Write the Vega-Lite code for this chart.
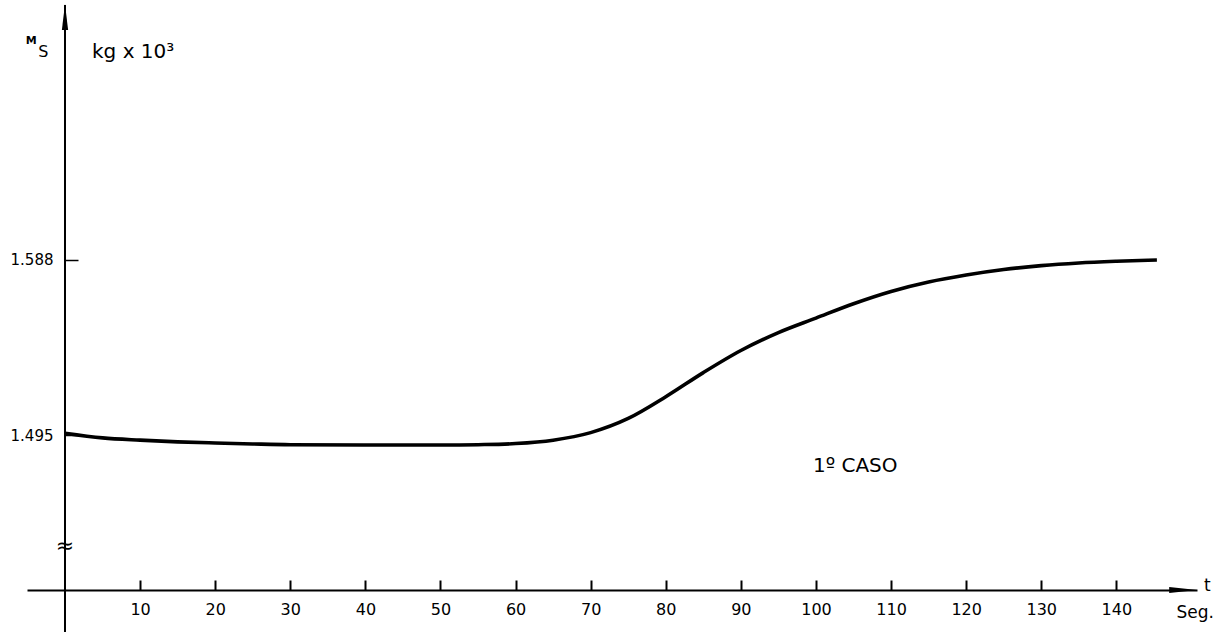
{
  "$schema": "https://vega.github.io/schema/vega-lite/v6.json",
  "width": 1170,
  "height": 585,
  "autosize": {"type": "none"},
  "padding": {"left": 27, "top": 5, "right": 28, "bottom": 42},
  "background": "white",
  "config": {"view": {"stroke": null}, "font": "DejaVu Sans"},
  "datasets": {
    "curve": [
      {"t": 0, "ms": 1.4962},
      {"t": 5, "ms": 1.4937},
      {"t": 10, "ms": 1.4925},
      {"t": 15, "ms": 1.4916},
      {"t": 20, "ms": 1.4910},
      {"t": 25, "ms": 1.4905},
      {"t": 30, "ms": 1.4901},
      {"t": 40, "ms": 1.4899},
      {"t": 50, "ms": 1.4899},
      {"t": 55, "ms": 1.4901},
      {"t": 60, "ms": 1.4907},
      {"t": 65, "ms": 1.4925},
      {"t": 70, "ms": 1.4965},
      {"t": 75, "ms": 1.5040},
      {"t": 80, "ms": 1.5155},
      {"t": 85, "ms": 1.5283},
      {"t": 90, "ms": 1.5400},
      {"t": 95, "ms": 1.5495},
      {"t": 100, "ms": 1.5572},
      {"t": 105, "ms": 1.5648},
      {"t": 110, "ms": 1.5713},
      {"t": 115, "ms": 1.5763},
      {"t": 120, "ms": 1.5800},
      {"t": 125, "ms": 1.5829},
      {"t": 130, "ms": 1.5850},
      {"t": 135, "ms": 1.5864},
      {"t": 140, "ms": 1.5873},
      {"t": 145.4, "ms": 1.5880}
    ],
    "one": [{}],
    "bigText": [
      {"t": 3.6, "ms": 1.6982, "label": "kg x 10³"},
      {"t": 99.6, "ms": 1.4788, "label": "1º CASO"}
    ],
    "axText": [
      {"t": 152.1, "ms": 1.4150, "label": "t"},
      {"t": 150.5, "ms": 1.4009, "label": "Seg."}
    ]
  },
  "layer": [
    {
      "data": {"name": "curve"},
      "mark": {"type": "line", "color": "black", "strokeWidth": 3.6, "interpolate": "monotone"},
      "encoding": {
        "x": {"field": "t", "type": "quantitative",
          "scale": {"domain": [-5.06, 150.74], "nice": false, "zero": false},
          "axis": {"values": [10,20,30,40,50,60,70,80,90,100,110,120,130,140], "title": null,
            "domain": true, "domainColor": "black", "domainWidth": 2,
            "tickSize": -10, "tickColor": "black", "tickWidth": 2,
            "labelFontSize": 16, "labelColor": "black", "labelPadding": 21, "grid": false}},
        "y": {"field": "ms", "type": "quantitative",
          "scale": {"domain": [1.4131, 1.7231], "nice": false, "zero": false},
          "axis": {"values": [1.495, 1.588], "format": ".3f", "title": null, "offset": -38,
            "domain": false, "tickSize": -13, "tickColor": "black", "tickWidth": 1.5,
            "labelFontSize": 15, "labelColor": "black", "labelPadding": 25, "grid": false}}
      }
    },
    {
      "data": {"name": "one"},
      "mark": {"type": "rule", "color": "black", "strokeWidth": 2},
      "encoding": {
        "x": {"datum": 0, "type": "quantitative"},
        "y": {"datum": 1.7231, "type": "quantitative"},
        "y2": {"datum": 1.3908}
      }
    },
    {
      "data": {"name": "one"},
      "mark": {"type": "point", "filled": true, "color": "black", "opacity": 1,
        "shape": "M 0 -1 L 0.24 1 L -0.24 1 Z", "size": 676},
      "encoding": {
        "x": {"datum": 0, "type": "quantitative"},
        "y": {"datum": 1.7168, "type": "quantitative"}
      }
    },
    {
      "data": {"name": "one"},
      "mark": {"type": "point", "filled": true, "color": "black", "opacity": 1,
        "shape": "M 1 0 L -1 -0.22 L -1 0.22 Z", "size": 784},
      "encoding": {
        "x": {"datum": 148.9, "type": "quantitative"},
        "y": {"datum": 1.4131, "type": "quantitative"}
      }
    },
    {
      "data": {"name": "one"},
      "mark": {"type": "text", "text": "≈", "fontSize": 22, "color": "black", "align": "center", "baseline": "middle"},
      "encoding": {
        "x": {"datum": 0, "type": "quantitative"},
        "y": {"datum": 1.4364, "type": "quantitative"}
      }
    },
    {
      "data": {"name": "one"},
      "mark": {"type": "text", "text": "M", "fontSize": 11, "fontWeight": "bold", "color": "black", "align": "center", "baseline": "middle"},
      "encoding": {
        "x": {"datum": -4.5, "type": "quantitative"},
        "y": {"datum": 1.7040, "type": "quantitative"}
      }
    },
    {
      "data": {"name": "one"},
      "mark": {"type": "text", "text": "S", "fontSize": 16, "color": "black", "align": "center", "baseline": "middle"},
      "encoding": {
        "x": {"datum": -2.9, "type": "quantitative"},
        "y": {"datum": 1.6982, "type": "quantitative"}
      }
    },
    {
      "data": {"name": "bigText"},
      "mark": {"type": "text", "fontSize": 20, "color": "black", "align": "left", "baseline": "middle"},
      "encoding": {
        "x": {"field": "t", "type": "quantitative"},
        "y": {"field": "ms", "type": "quantitative"},
        "text": {"field": "label"}
      }
    },
    {
      "data": {"name": "axText"},
      "mark": {"type": "text", "fontSize": 17, "color": "black", "align": "center", "baseline": "middle"},
      "encoding": {
        "x": {"field": "t", "type": "quantitative"},
        "y": {"field": "ms", "type": "quantitative"},
        "text": {"field": "label"}
      }
    }
  ]
}
